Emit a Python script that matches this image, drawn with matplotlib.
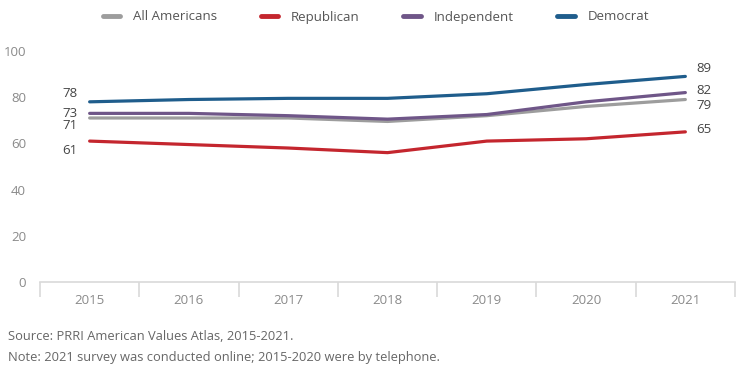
import matplotlib.pyplot as plt
import numpy as np

plt.rcParams['font.family'] = ['Open Sans', 'DejaVu Sans']

years = ['2015', '2016', '2017', '2018', '2019', '2020', '2021']
all_americans = [71, 71, 71, 69.5, 72, 76, 79]
republican = [61, 59.5, 58, 56, 61, 62, 65]
independent = [73, 73, 72, 70.5, 72.5, 78, 82]
democrat = [78, 79, 79.5, 79.5, 81.5, 85.5, 89]

series = [
    ('All Americans', all_americans, '#9d9d9d'),
    ('Republican', republican, '#c4262e'),
    ('Independent', independent, '#6f5688'),
    ('Democrat', democrat, '#1f5d8c'),
]

# label nudges in pixels (left end, right end)
left_dy = {'All Americans': -8, 'Republican': -9, 'Independent': 0, 'Democrat': 8}
right_dy = {'All Americans': -6, 'Republican': 2, 'Independent': 2, 'Democrat': 8}

fig = plt.figure(figsize=(7.5, 3.75), dpi=100)
ax = fig.add_axes([40 / 750, 1 - 282 / 375, 695 / 750, 231 / 375])

x = np.arange(len(years))
handles = []
for name, vals, col in series:
    h, = ax.plot(x, vals, color=col, lw=2.3, solid_capstyle='round', label=name)
    handles.append(h)
    ax.annotate(f'{vals[0]:.0f}', (x[0], vals[0]), xytext=(-12, left_dy[name]),
                textcoords='offset pixels', ha='right', va='center',
                fontsize=9.5, color='#444444')
    ax.annotate(f'{vals[-1]:.0f}', (x[-1], vals[-1]), xytext=(11, right_dy[name]),
                textcoords='offset pixels', ha='left', va='center',
                fontsize=9.5, color='#444444')

ax.set_xlim(-0.5, len(years) - 0.5)
ax.set_ylim(0, 100)
ax.set_yticks([0, 20, 40, 60, 80, 100])
ax.set_xticks(x)
ax.set_xticklabels(years)
ax.set_xticks(np.arange(len(years) + 1) - 0.5, minor=True)
ax.tick_params(axis='x', which='major', length=0, pad=9, labelsize=9.5, labelcolor='#8a8a8a')
ax.tick_params(axis='x', which='minor', length=11, color='#d9d9d9', width=1.2)
ax.tick_params(axis='y', length=0, pad=10, labelsize=9.5, labelcolor='#8a8a8a')
for s in ['top', 'right', 'left']:
    ax.spines[s].set_visible(False)
ax.spines['bottom'].set_color('#d9d9d9')
ax.spines['bottom'].set_linewidth(1.2)

leg = fig.legend(handles=handles, loc='center', bbox_to_anchor=(376 / 750, 1 - 17 / 375),
                 ncol=4, frameon=False, fontsize=9.5, handlelength=1.3,
                 handletextpad=1.0, columnspacing=3.3)
for t in leg.get_texts():
    t.set_color('#555555')
for lh in leg.get_lines():
    lh.set_linewidth(3.5)

fig.text(8 / 750, 1 - 337 / 375, 'Source: PRRI American Values Atlas, 2015-2021.',
         fontsize=9.3, color='#666666', va='center')
fig.text(8 / 750, 1 - 357 / 375, 'Note: 2021 survey was conducted online; 2015-2020 were by telephone.',
         fontsize=9.3, color='#666666', va='center')

fig.savefig('out.png', dpi=100)
